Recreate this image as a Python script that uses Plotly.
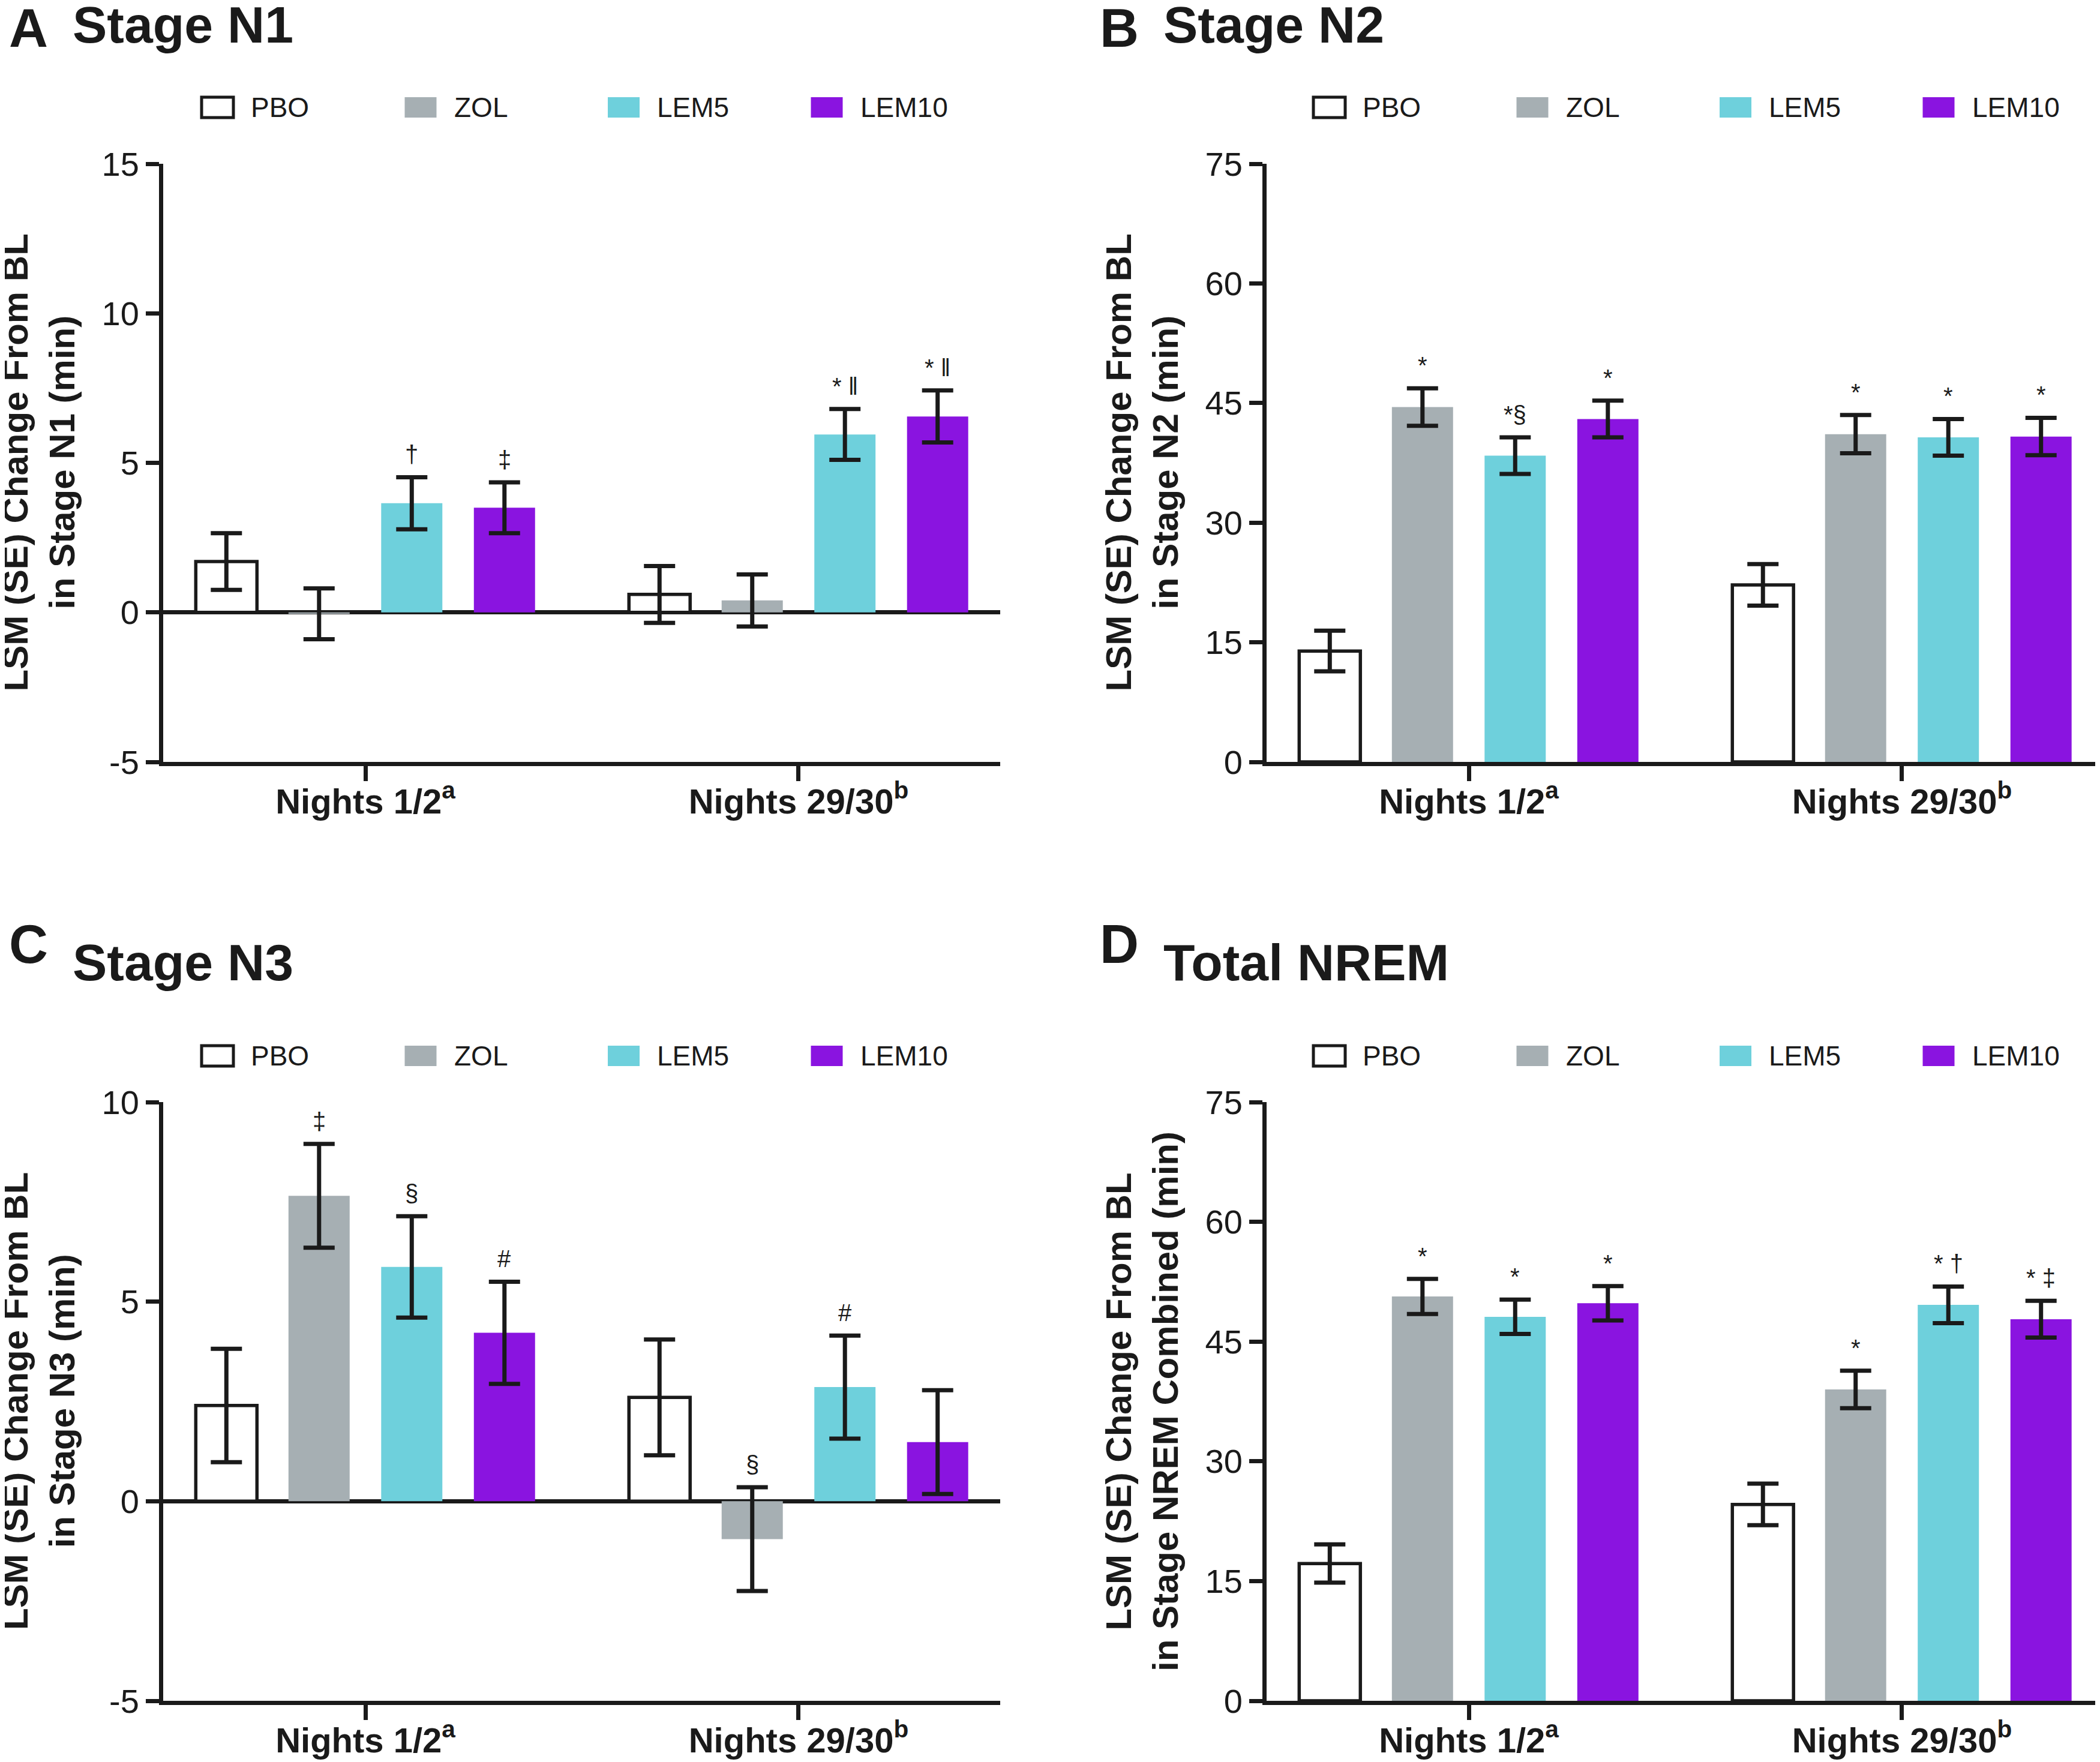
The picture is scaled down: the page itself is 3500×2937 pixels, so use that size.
"""Lemborexant PSG: change from baseline in NREM sleep stages (4 panels)."""

import plotly.graph_objects as go

W, H = 3500, 2937
FONT = "Liberation Sans, Arial, Helvetica, sans-serif"
INK = "#1a1a1a"

GROUPS = ["Nights 1/2<sup>a</sup>", "Nights 29/30<sup>b</sup>"]
TREATMENTS = ["PBO", "ZOL", "LEM5", "LEM10"]
COLORS = {"PBO": "#ffffff", "ZOL": "#a6afb3", "LEM5": "#6ed0dc", "LEM10": "#8a14e0"}

# Stage N1 (min)
N1_TICKS = [-5, 0, 5, 10, 15]
N1_LSM = {"PBO": [1.7, 0.6], "ZOL": [-0.05, 0.4], "LEM5": [3.65, 5.95], "LEM10": [3.5, 6.55]}
N1_SE = {"PBO": [0.95, 0.95], "ZOL": [0.85, 0.87], "LEM5": [0.87, 0.85], "LEM10": [0.85, 0.87]}
N1_SIG = {"PBO": ["", ""], "ZOL": ["", ""], "LEM5": ["†", "* ‖"], "LEM10": ["‡", "* ‖"]}

# Stage N2 (min)
N2_TICKS = [0, 15, 30, 45, 60, 75]
N2_LSM = {"PBO": [13.9, 22.2], "ZOL": [44.5, 41.1], "LEM5": [38.4, 40.7], "LEM10": [43.0, 40.8]}
N2_SE = {"PBO": [2.55, 2.6], "ZOL": [2.35, 2.4], "LEM5": [2.3, 2.3], "LEM10": [2.3, 2.35]}
N2_SIG = {"PBO": ["", ""], "ZOL": ["*", "*"], "LEM5": ["*§", "*"], "LEM10": ["*", "*"]}

# Stage N3 (min)
N3_TICKS = [-5, 0, 5, 10]
N3_LSM = {"PBO": [2.4, 2.6], "ZOL": [7.65, -0.95], "LEM5": [5.87, 2.86], "LEM10": [4.22, 1.48]}
N3_SE = {"PBO": [1.42, 1.45], "ZOL": [1.3, 1.3], "LEM5": [1.27, 1.29], "LEM10": [1.28, 1.3]}
N3_SIG = {"PBO": ["", ""], "ZOL": ["‡", "§"], "LEM5": ["§", "#"], "LEM10": ["#", ""]}

# Total NREM (min)
NREM_TICKS = [0, 15, 30, 45, 60, 75]
NREM_LSM = {"PBO": [17.2, 24.6], "ZOL": [50.65, 39.0], "LEM5": [48.1, 49.6], "LEM10": [49.8, 47.8]}
NREM_SE = {"PBO": [2.4, 2.6], "ZOL": [2.2, 2.35], "LEM5": [2.15, 2.3], "LEM10": [2.15, 2.3]}
NREM_SIG = {"PBO": ["", ""], "ZOL": ["*", "*"], "LEM5": ["*", "* †"], "LEM10": ["*", "* ‡"]}

BARGAP = 0.144
SLOT = (1 - BARGAP) / len(TREATMENTS)
GROUP_PX = 724  # pixel distance between the two group centres

# panel boxes in pixels: left, right, top, bottom
PANELS = [
    dict(letter="A", title="Stage N1", lsm=N1_LSM, se=N1_SE, sig=N1_SIG, ticks=N1_TICKS,
         stage="Stage N1", box=(264, 1659, 265, 1262), head=(39, 33), legend_y=171),
    dict(letter="B", title="Stage N2", lsm=N2_LSM, se=N2_SE, sig=N2_SIG, ticks=N2_TICKS,
         stage="Stage N2", box=(2103, 3500, 265, 1262), head=(39, 33), legend_y=171),
    dict(letter="C", title="Stage N3", lsm=N3_LSM, se=N3_SE, sig=N3_SIG, ticks=N3_TICKS,
         stage="Stage N3", box=(264, 1659, 1829, 2827), head=(1566, 1596), legend_y=1752),
    dict(letter="D", title="Total NREM", lsm=NREM_LSM, se=NREM_SE, sig=NREM_SIG,
         ticks=NREM_TICKS, stage="Stage NREM Combined",
         box=(2103, 3500, 1829, 2827), head=(1566, 1596), legend_y=1752),
]


def px_x(v):
    return v / W


def px_y(v):
    return 1 - v / H


fig = go.Figure()
annotations = []
shapes = []

for k, p in enumerate(PANELS):
    n = "" if k == 0 else str(k + 1)
    xa, ya = "x" + n, "y" + n
    left, right, top, bottom = p["box"]
    centre = left + 334

    for i, t in enumerate(TREATMENTS):
        fig.add_bar(
            x=[0, 1], y=p["lsm"][t], name=t, xaxis=xa, yaxis=ya, showlegend=False,
            marker=dict(color=COLORS[t],
                        line=dict(color=INK if t == "PBO" else COLORS[t],
                                  width=5.5 if t == "PBO" else 0)),
            error_y=dict(type="data", array=p["se"][t], color=INK, thickness=7, width=26),
        )
        for j in range(len(GROUPS)):
            label = p["sig"][t][j]
            if not label:
                continue
            annotations.append(dict(
                x=j + (i - 1.5) * SLOT, y=p["lsm"][t][j] + p["se"][t][j],
                xref=xa, yref=ya, text=label, showarrow=False,
                yanchor="bottom", yshift=14,
                font=dict(family=FONT, size=40, color=INK),
            ))

    fig.layout["xaxis" + n] = dict(
        domain=[px_x(left), px_x(right)], anchor=ya,
        range=[(left - 4 - centre) / GROUP_PX, (right - centre) / GROUP_PX],
        tickvals=[0, 1], ticktext=GROUPS,
        ticks="outside", ticklen=25, tickwidth=7, tickcolor=INK,
        ticklabelstandoff=-16,
        showline=True, linewidth=7, linecolor=INK,
        showgrid=False, zeroline=False,
        tickfont=dict(family=FONT, size=58, weight="bold", color=INK),
    )
    fig.layout["yaxis" + n] = dict(
        domain=[px_y(bottom), px_y(top)], anchor=xa,
        range=[p["ticks"][0], p["ticks"][-1]],
        tickvals=p["ticks"], ticktext=[str(v) for v in p["ticks"]],
        ticks="outside", ticklen=22, tickwidth=7, tickcolor=INK,
        showline=True, linewidth=7, linecolor=INK,
        showgrid=False, zeroline=p["ticks"][0] < 0,
        zerolinewidth=7, zerolinecolor=INK, layer="above traces",
        tickfont=dict(family=FONT, size=56, color=INK),
    )

    # y-axis title, two centred lines turned upright
    annotations.append(dict(
        x=px_x(left - 4 - 204), y=px_y((top + bottom) / 2), xref="paper", yref="paper",
        xanchor="center", yanchor="middle", textangle=-90, showarrow=False,
        text=f"<b>LSM (SE) Change From BL<br>in {p['stage']} (min)</b>",
        font=dict(family=FONT, size=60, color=INK),
    ))

    # panel letter and heading
    lx = 5 if left < 1000 else 1823
    annotations.append(dict(
        x=px_x(lx), y=px_y(p["head"][0]), xref="paper", yref="paper",
        xanchor="left", yanchor="middle", text=f"<b>{p['letter']}</b>", showarrow=False,
        font=dict(family=FONT, size=90, color=INK),
    ))
    annotations.append(dict(
        x=px_x(lx + 106), y=px_y(p["head"][1]), xref="paper", yref="paper",
        xanchor="left", yanchor="middle", text=f"<b>{p['title']}</b>", showarrow=False,
        font=dict(family=FONT, size=86, color=INK),
    ))

    # legend row
    key0 = 328 if left < 1000 else 2181
    ly = p["legend_y"]
    for i, t in enumerate(TREATMENTS):
        kx = key0 + i * 338.5
        shapes.append(dict(
            type="rect", xref="paper", yref="paper",
            x0=px_x(kx), x1=px_x(kx + 53), y0=px_y(ly - 17), y1=px_y(ly + 17),
            fillcolor=COLORS[t], line=dict(color=INK if t == "PBO" else COLORS[t],
                                           width=5 if t == "PBO" else 0),
        ))
        annotations.append(dict(
            x=px_x(kx + 80), y=px_y(ly), xref="paper", yref="paper",
            xanchor="left", yanchor="middle", text=t, showarrow=False,
            font=dict(family=FONT, size=46, color=INK),
        ))

fig.update_layout(
    width=W, height=H,
    margin=dict(l=0, r=0, t=0, b=0, autoexpand=False),
    paper_bgcolor="white", plot_bgcolor="white",
    barmode="group", bargap=BARGAP, bargroupgap=0.34,
    annotations=annotations, shapes=shapes,
    font=dict(family=FONT, color=INK),
)

fig.write_html("out.html")
